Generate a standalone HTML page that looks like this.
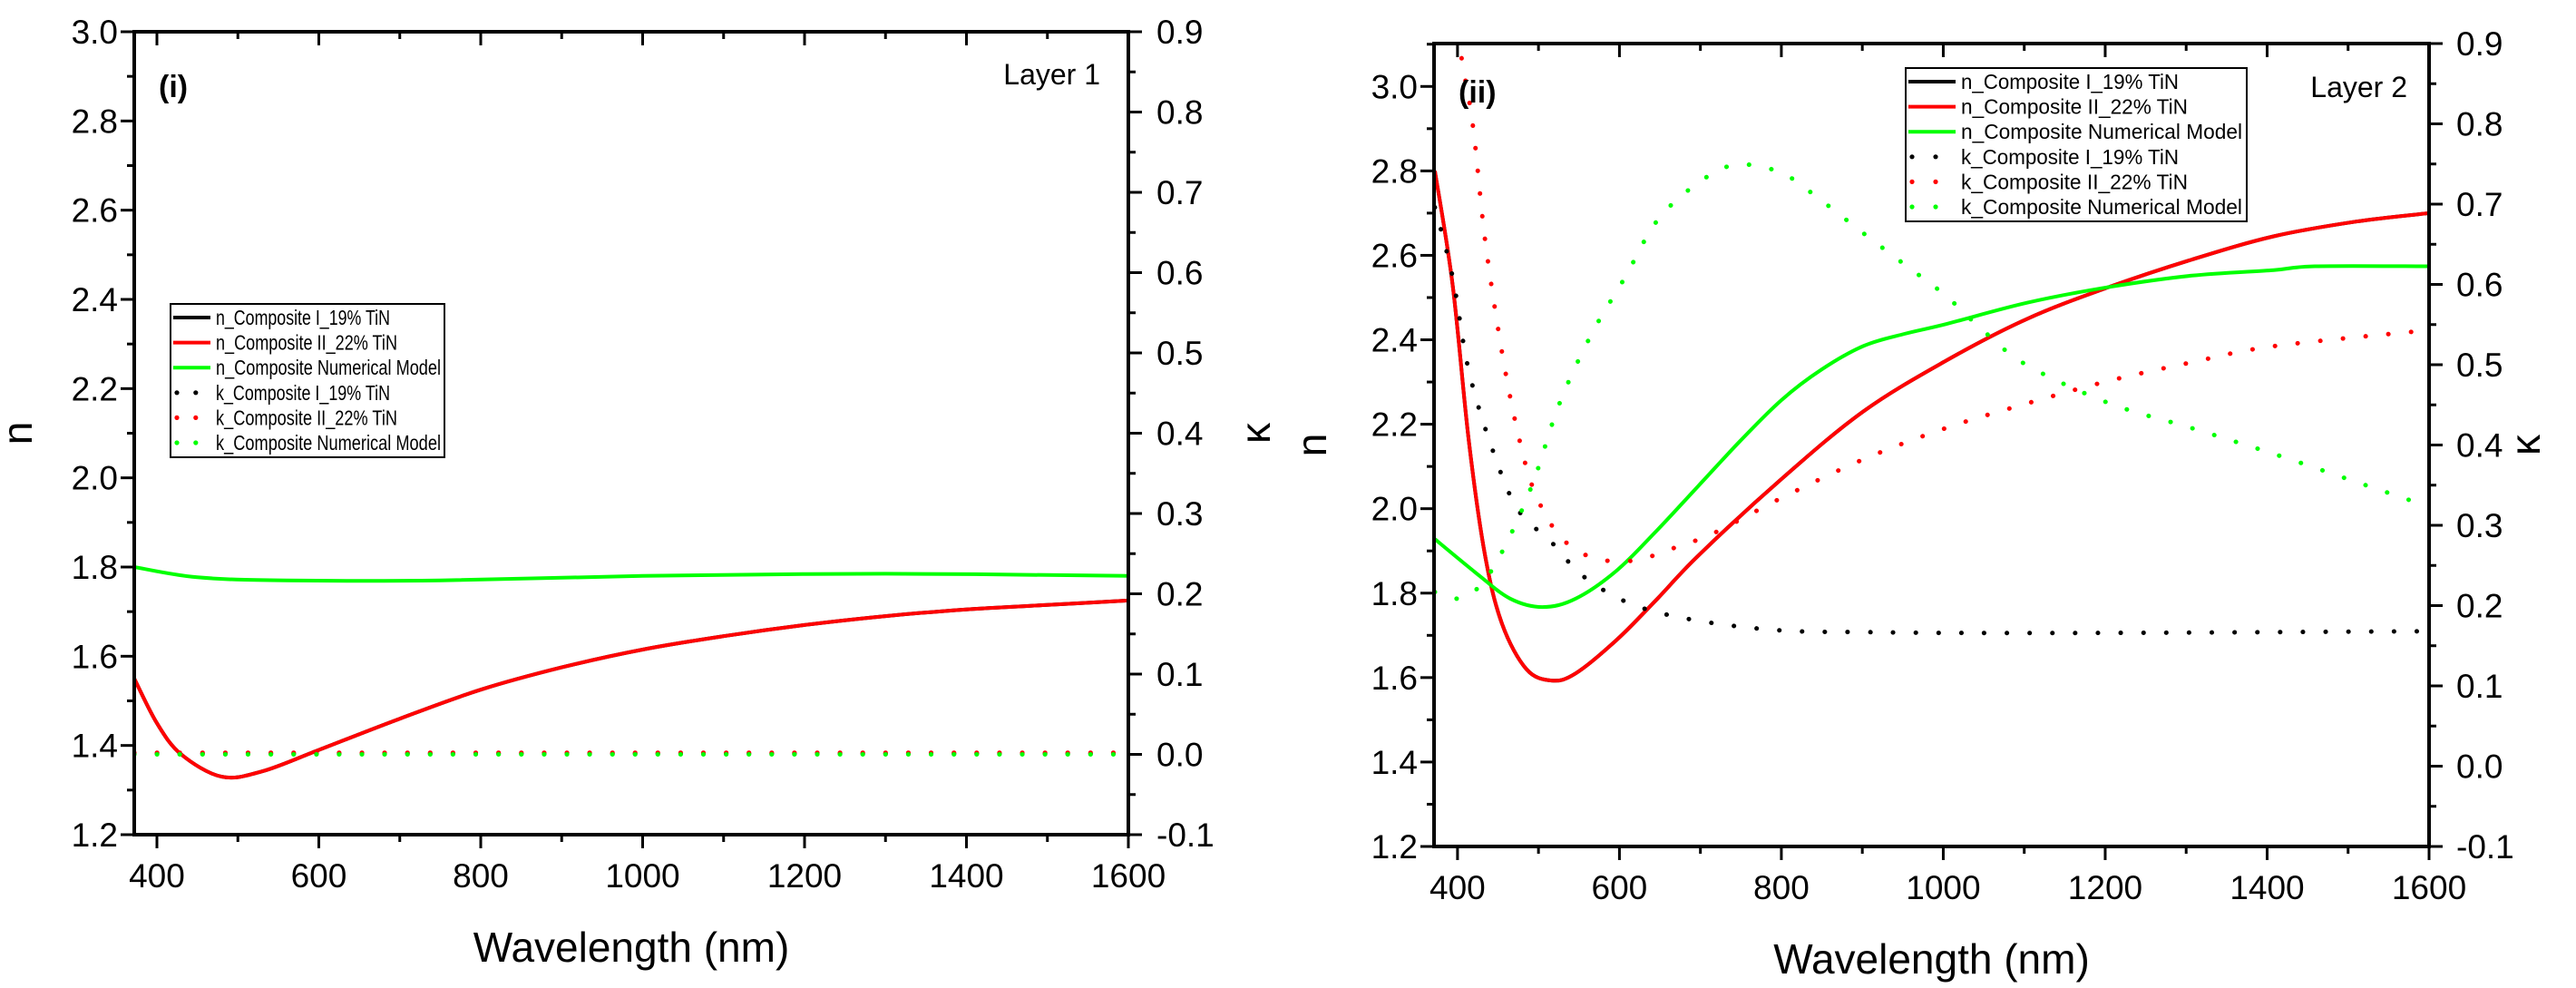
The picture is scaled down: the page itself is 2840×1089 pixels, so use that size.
<!DOCTYPE html>
<html><head><meta charset="utf-8"><style>
html,body{margin:0;padding:0;background:#fff;}
svg{display:block;font-family:"Liberation Sans",Arial,sans-serif;}
</style></head><body>
<svg id="fig" width="2840" height="1089" viewBox="0 0 2840 1089" xmlns="http://www.w3.org/2000/svg">
<rect width="2840" height="1089" fill="#fff"/>
</svg>
<script>
// ---------- data: panel (i) Layer 1 ----------
const xTicks = [400,600,800,1000,1200,1400,1600];
const nTicks1 = ["1.2","1.4","1.6","1.8","2.0","2.2","2.4","2.6","2.8","3.0"];
const nTicks2 = ["1.2","1.4","1.6","1.8","2.0","2.2","2.4","2.6","2.8","3.0"];
const kTicks = ["-0.1","0.0","0.1","0.2","0.3","0.4","0.5","0.6","0.7","0.8","0.9"];
const legendLabels = ["n_Composite I_19% TiN","n_Composite II_22% TiN","n_Composite Numerical Model","k_Composite I_19% TiN","k_Composite II_22% TiN","k_Composite Numerical Model"];

const L1_nRedX = [372,400,430,480,530,600,700,800,900,1000,1100,1200,1300,1400,1500,1600];
const L1_nRedY = [1.55,1.45,1.38,1.33,1.342,1.39,1.46,1.525,1.575,1.615,1.645,1.67,1.69,1.705,1.715,1.725];
const L1_nGreenX = [372,450,560,750,1000,1300,1600];
const L1_nGreenY = [1.80,1.777,1.77,1.77,1.78,1.785,1.78];
const L1_kX = [372,600,900,1200,1600];
const L1_kBlack = [0.001,0.001,0.001,0.001,0.001];
const L1_kRed = [0.002,0.002,0.002,0.002,0.002];
const L1_kGreen = [0.0,0.0,0.0,0.0,0.0];

// ---------- data: panel (ii) Layer 2 ----------
const L2_nRedX = [372,394,414,434,455,485,516,546,597,647,698,800,901,1003,1104,1205,1307,1408,1510,1600];
const L2_nRedY = [2.80,2.53,2.16,1.89,1.727,1.62,1.593,1.61,1.69,1.787,1.89,2.07,2.23,2.35,2.45,2.525,2.59,2.645,2.68,2.70];
const L2_nGreenX = [372,424,465,505,546,597,647,698,749,800,850,901,952,1003,1104,1205,1307,1408,1459,1600];
const L2_nGreenY = [1.928,1.846,1.787,1.767,1.787,1.854,1.95,2.055,2.16,2.257,2.33,2.385,2.414,2.437,2.488,2.525,2.552,2.565,2.574,2.574];
const L2_kBlackX = [372,394,414,445,475,516,556,617,698,800,901,1003,1205,1600];
const L2_kBlackY = [0.696,0.609,0.492,0.389,0.319,0.279,0.236,0.201,0.181,0.169,0.167,0.166,0.166,0.168];
const L2_kRedX = [380,404,419,434,455,475,495,526,566,617,668,718,800,901,1003,1104,1205,1307,1408,1600];
const L2_kRedY = [1.05,0.888,0.798,0.656,0.515,0.413,0.342,0.287,0.260,0.256,0.272,0.291,0.334,0.382,0.421,0.452,0.48,0.503,0.523,0.543];
const L2_kGreenX = [372,404,434,465,495,526,566,607,647,698,744,800,850,901,952,1003,1053,1104,1205,1307,1408,1510,1580];
const L2_kGreenY = [0.217,0.209,0.232,0.287,0.358,0.452,0.539,0.609,0.68,0.727,0.749,0.739,0.704,0.664,0.625,0.586,0.539,0.499,0.452,0.421,0.389,0.354,0.33];

const NS="http://www.w3.org/2000/svg";
const svg=document.getElementById('fig');
function el(tag,attrs,parent){const e=document.createElementNS(NS,tag);for(const k in attrs)e.setAttribute(k,attrs[k]);(parent||svg).appendChild(e);return e;}
function txt(s,attrs,parent){const e=el('text',attrs,parent);e.textContent=s;return e;}

function smoothPath(pts){
  if(pts.length<2)return '';
  let d='M'+pts[0][0].toFixed(1)+','+pts[0][1].toFixed(1);
  for(let i=0;i<pts.length-1;i++){
    const p0=pts[i-1]||pts[i],p1=pts[i],p2=pts[i+1],p3=pts[i+2]||p2;
    const c1=[p1[0]+(p2[0]-p0[0])/6,p1[1]+(p2[1]-p0[1])/6];
    const c2=[p2[0]-(p3[0]-p1[0])/6,p2[1]-(p3[1]-p1[1])/6];
    d+=' C'+c1[0].toFixed(1)+','+c1[1].toFixed(1)+' '+c2[0].toFixed(1)+','+c2[1].toFixed(1)+' '+p2[0].toFixed(1)+','+p2[1].toFixed(1);
  }
  return d;
}

function panel(cfg){
  const g=el('g',{});
  
  
  const {L,R,T,B,xMin,nMin,nMax,kMin,kMax}=cfg;
  const sx=v=>L+(v-xMin)/(1600-xMin)*(R-L);
  const sn=v=>B-(v-nMin)/(nMax-nMin)*(B-T);
  const sk=v=>B-(v-kMin)/(kMax-kMin)*(B-T);
  const cid='clip-'+cfg.id;
  const cp=el('clipPath',{id:cid},g);el('rect',{x:L,y:T,width:R-L,height:B-T},cp);

  const lines=[
    {x:cfg.nRedX,y:cfg.nRedY,s:sn,c:'#000',dot:false,n:'n-composite-i-line'},
    {x:cfg.nRedX,y:cfg.nRedY,s:sn,c:'#ff0000',dot:false,n:'n-composite-ii-line'},
    {x:cfg.nGreenX,y:cfg.nGreenY,s:sn,c:'#00ff00',dot:false,n:'n-numerical-model-line'},
    {x:cfg.kBlackX,y:cfg.kBlackY,s:sk,c:'#000',dot:true,n:'k-composite-i-line'},
    {x:cfg.kRedX,y:cfg.kRedY,s:sk,c:'#ff0000',dot:true,n:'k-composite-ii-line'},
    {x:cfg.kGreenX,y:cfg.kGreenY,s:sk,c:'#00ff00',dot:true,n:'k-numerical-model-line'}
  ];
  for(const ln of lines){
    const pts=ln.x.map((xv,i)=>[sx(xv),ln.s(ln.y[i])]);
    const p=el('path',{d:smoothPath(pts),fill:'none',stroke:ln.c,'stroke-width':ln.dot?5:4,'clip-path':'url(#'+cid+')'},g);
    if(ln.dot){p.setAttribute('stroke-dasharray','0.1 25');p.setAttribute('stroke-linecap','round');}
    
    
  }

  const fr=el('rect',{x:L,y:T,width:R-L,height:B-T,fill:'none',stroke:'#000','stroke-width':4},g);
  
  

  for(let v=400;v<=1600;v+=100){
    const x=sx(v),maj=(v%200===0);
    el('line',{x1:x,y1:B,x2:x,y2:B+(maj?15:8),stroke:'#000','stroke-width':3},g);
    el('line',{x1:x,y1:T,x2:x,y2:T+(maj?15:8),stroke:'#000','stroke-width':3},g);
  }
  xTicks.forEach(v=>{
    const t=txt(String(v),{x:sx(v),y:cfg.xLabY,'font-size':37,'text-anchor':'middle'},g);
    
    
  });
  cfg.nTicks.forEach(s=>{
    const v=parseFloat(s),y=sn(v);
    el('line',{x1:L-15,y1:y,x2:L,y2:y,stroke:'#000','stroke-width':3},g);
    const y2=sn(v+0.1); if(v+0.1<nMax) el('line',{x1:L-8,y1:y2,x2:L,y2:y2,stroke:'#000','stroke-width':3},g);
    const t=txt(s,{x:L-18,y:y+13,'font-size':37,'text-anchor':'end'},g);
    
    
  });
  kTicks.forEach(s=>{
    const v=parseFloat(s),y=sk(v);
    el('line',{x1:R,y1:y,x2:R+15,y2:y,stroke:'#000','stroke-width':3},g);
    if(v<0.85){const y2=sk(v+0.05);el('line',{x1:R,y1:y2,x2:R+8,y2:y2,stroke:'#000','stroke-width':3},g);}
    const t=txt(s,{x:cfg.kLabX,y:y+13,'font-size':37,'text-anchor':'start'},g);
    
    
  });
  let t=txt('Wavelength (nm)',{x:(L+R)/2,y:cfg.xTitleY,'font-size':46,'text-anchor':'middle'},g);
  
  
  t=txt('n',{x:0,y:0,'font-size':46,'text-anchor':'middle',transform:'translate('+cfg.nTitleX+','+(T+B)/2+') rotate(-90)'},g);
  
  
  t=txt('κ',{x:0,y:0,'font-size':46,'text-anchor':'middle',transform:'translate('+cfg.kTitleX+','+(T+B)/2+') rotate(-90)'},g);
  
  
  t=txt(cfg.tag,{x:cfg.tagX,y:cfg.tagY,'font-size':34,'font-weight':'bold'},g);
  
  
  t=txt(cfg.layer,{x:cfg.layerX,y:cfg.layerY,'font-size':32,'text-anchor':'end'},g);
  
  

  const lg=el('g',{},g);
  
  
  const lx=cfg.legX,ly=cfg.legY,sc=cfg.legScale;
  el('rect',{x:lx,y:ly,width:cfg.legW,height:169,fill:'#fff',stroke:'#000','stroke-width':2},lg);
  const cols=['#000','#ff0000','#00ff00','#000','#ff0000','#00ff00'];
  legendLabels.forEach((s,i)=>{
    const y=ly+15+i*27.6;
    const e=el('g',{},lg);
    
    
    const sw=55*sc;
    if(i<3) el('line',{x1:lx+3,y1:y,x2:lx+sw,y2:y,stroke:cols[i],'stroke-width':4},e);
    else { el('circle',{cx:lx+7,cy:y,r:2.6,fill:cols[i]},e); el('circle',{cx:lx+7+26*sc,cy:y,r:2.6,fill:cols[i]},e); }
    const w=(s.length>24?310:(s.length>21?250:240))*sc;
    txt(s,{x:lx+sw+6,y:y+8,'font-size':23,textLength:w,lengthAdjust:'spacingAndGlyphs'},e);
  });
}

panel({id:'a',name:'chart-layer-1',L:148,R:1244,T:35,B:920,xMin:372,nMin:1.2,nMax:3.0,kMin:-0.1,kMax:0.9,
  nTicks:nTicks1,xLabY:978,kLabX:1275,xTitleY:1060,nTitleX:35,kTitleX:1400,
  tag:'(i)',tagX:175,tagY:107,layer:'Layer 1',layerX:1213,layerY:93,legX:188,legY:335,legW:302,legScale:0.8,
  nRedX:L1_nRedX,nRedY:L1_nRedY,nGreenX:L1_nGreenX,nGreenY:L1_nGreenY,
  kBlackX:L1_kX,kBlackY:L1_kBlack,kRedX:L1_kX,kRedY:L1_kRed,kGreenX:L1_kX,kGreenY:L1_kGreen});

panel({id:'b',name:'chart-layer-2',L:1581,R:2678,T:48,B:933,xMin:371,nMin:1.2,nMax:3.1016,kMin:-0.1,kMax:0.9,
  nTicks:nTicks2,xLabY:991,kLabX:2708,xTitleY:1073,nTitleX:1462,kTitleX:2800,
  tag:'(ii)',tagX:1608,tagY:113,layer:'Layer 2',layerX:2654,layerY:107,legX:2101,legY:75,legW:376,legScale:1,
  nRedX:L2_nRedX,nRedY:L2_nRedY,nGreenX:L2_nGreenX,nGreenY:L2_nGreenY,
  kBlackX:L2_kBlackX,kBlackY:L2_kBlackY,kRedX:L2_kRedX,kRedY:L2_kRedY,kGreenX:L2_kGreenX,kGreenY:L2_kGreenY});
</script>
</body></html>
